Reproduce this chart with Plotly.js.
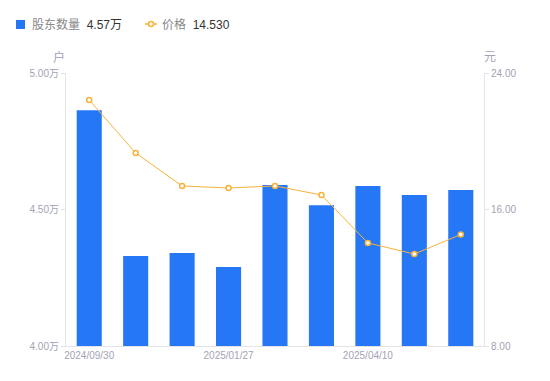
<!DOCTYPE html>
<html><head><meta charset="utf-8">
<script src="https://cdn.plot.ly/plotly-3.0.1.min.js"></script>
<style>body{margin:0;background:#fff}#c{width:550px;height:381px}</style>
</head><body><div id="c"></div>
<script>
const dates = ["2024/09/30","2024/10/31","2024/12/31","2025/01/27","2025/02/28","2025/03/31","2025/04/10","2025/05/20","2025/06/30"];
const holders = [4.864, 4.330, 4.341, 4.289, 4.590, 4.516, 4.586, 4.553, 4.571];
const prices = [22.42, 19.31, 17.38, 17.26, 17.38, 16.85, 14.04, 13.39, 14.53];
const tickDates = ["2024/09/30","2025/01/27","2025/04/10"];
const leftTicks = [4.0, 4.5, 5.0];
const rightTicks = [8, 16, 24];
const legendHolder = "4.57万";
const legendPrice = "14.530";

const F = "Liberation Sans, Noto Sans CJK SC, sans-serif";
const gray = "#a3a3b3";
const blue = "#2577f5";
const orange = "#f7b23b";
// pixel -> paper helpers (plot area 66..484 x, 73..346 y)
const px = p => (p - 66) / 418;
const py = p => (346 - p) / 273;

const traces = [
  {type:"bar", x:dates, y:holders, marker:{color:blue}, width:0.54, yaxis:"y", hoverinfo:"none", showlegend:false},
  {type:"scatter", mode:"lines+markers", x:dates, y:prices, yaxis:"y2",
   line:{color:orange, width:1}, marker:{size:5, color:"#fff", line:{color:orange, width:1.5}},
   hoverinfo:"none", showlegend:false}
];
const layout = {
  width:550, height:381, margin:{l:66, r:66, t:73, b:35},
  paper_bgcolor:"#fff", plot_bgcolor:"#fff",
  font:{family:F, size:10, color:gray},
  showlegend:false,
  xaxis:{type:"category", categoryorder:"array", categoryarray:dates, range:[-0.5, 8.5],
    tickmode:"array", tickvals:tickDates, ticktext:tickDates, ticks:"", showgrid:false,
    showline:true, linecolor:"#e3e3e8", linewidth:1, zeroline:false,
    tickfont:{size:10, color:gray}, fixedrange:true},
  yaxis:{range:[4.0, 5.0], tickmode:"array", tickvals:leftTicks,
    ticktext:leftTicks.map(v=>v.toFixed(2)+"万"), showgrid:false, zeroline:false,
    showline:true, linecolor:"#e3e3e8", ticks:"outside", ticklen:4, tickcolor:"#e3e3e8",
    tickfont:{size:10, color:gray}},
  yaxis2:{range:[8, 24], overlaying:"y", side:"right", tickmode:"array", tickvals:rightTicks,
    ticktext:rightTicks.map(v=>v.toFixed(2)), showgrid:false, zeroline:false,
    showline:true, linecolor:"#e3e3e8", ticks:"outside", ticklen:4, tickcolor:"#e3e3e8",
    tickfont:{size:10, color:gray}},
  shapes:[
    {type:"rect", xref:"paper", yref:"paper", x0:px(16), x1:px(25), y0:py(29), y1:py(20),
     fillcolor:blue, line:{width:0}},
    {type:"line", xref:"paper", yref:"paper", x0:px(145), x1:px(157), y0:py(24), y1:py(24),
     line:{color:orange, width:1.5}},
    {type:"circle", xref:"paper", yref:"paper", x0:px(148.5), x1:px(153.5), y0:py(26.5), y1:py(21.5),
     fillcolor:"#fff", line:{color:orange, width:1.5}}
  ],
  annotations:[
    {text:'股东数量  <span style="color:#333">'+legendHolder+'</span>', xref:"paper", yref:"paper",
     x:px(30), y:py(24.5), xanchor:"left", yanchor:"middle", showarrow:false, font:{size:12, color:"#888"}},
    {text:'价格  <span style="color:#333">'+legendPrice+'</span>', xref:"paper", yref:"paper",
     x:px(160), y:py(24.5), xanchor:"left", yanchor:"middle", showarrow:false, font:{size:12, color:"#888"}},
    {text:"户", xref:"paper", yref:"paper", x:px(59), y:py(57), xanchor:"center", yanchor:"middle",
     showarrow:false, font:{size:12, color:gray}},
    {text:"元", xref:"paper", yref:"paper", x:px(490), y:py(57), xanchor:"center", yanchor:"middle",
     showarrow:false, font:{size:12, color:gray}}
  ]
};
Plotly.newPlot("c", traces, layout, {displayModeBar:false, staticPlot:true});
</script></body></html>
